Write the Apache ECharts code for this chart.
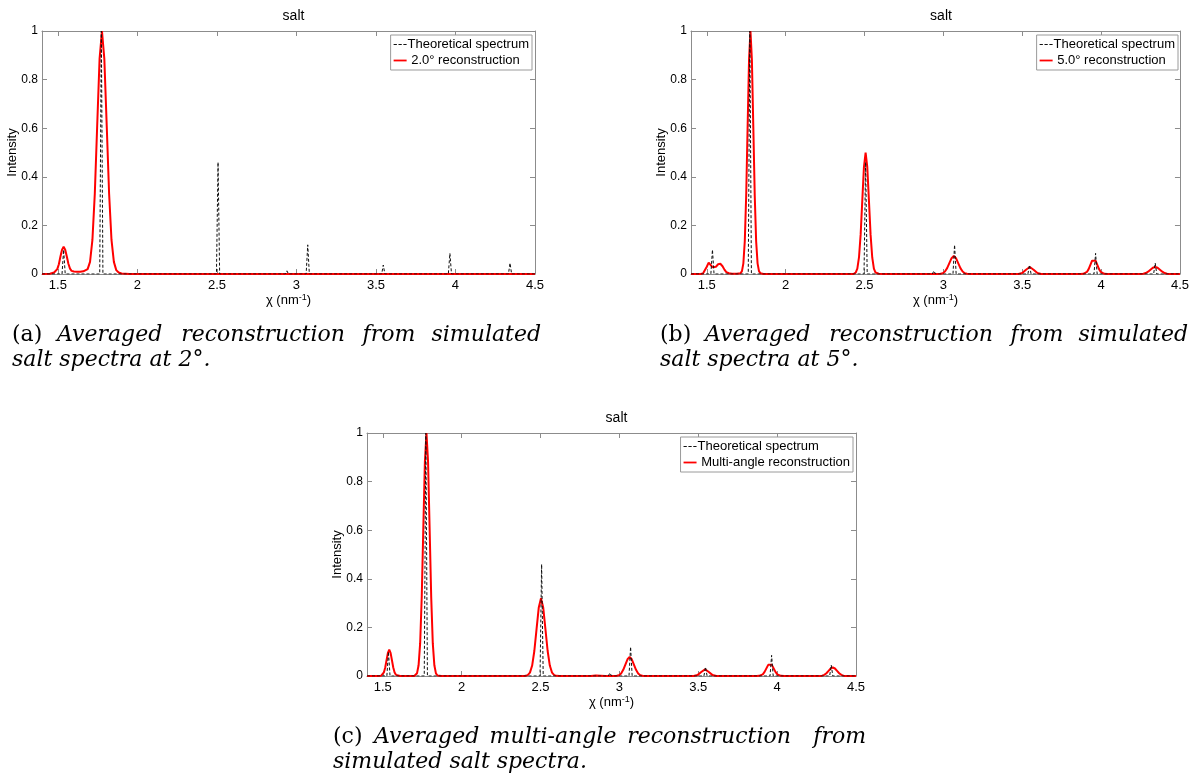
<!DOCTYPE html>
<html>
<head>
<meta charset="utf-8">
<script src="https://cdn.jsdelivr.net/npm/echarts@6/dist/echarts.min.js"></script>
<style>
  html, body { margin: 0; padding: 0; background: #fff; }
  #chart { width: 1192px; height: 783px; }
</style>
</head>
<body>
<div id="chart"></div>
<script>
// ---------------- data ----------------
const xTickValues = [1.5, 2, 2.5, 3, 3.5, 4, 4.5];
const panelTitles = ['salt', 'salt', 'salt'];
const theoryName = 'Theoretical spectrum';
const reconNames = ['2.0\u00b0 reconstruction', '5.0\u00b0 reconstruction', 'Multi-angle reconstruction'];

// theoretical stick spectrum [chi, intensity]
const theoretical = [
  [1.40, 0], [1.526, 0], [1.536, 0.10], [1.546, 0],
  [1.763, 0], [1.773, 1.0], [1.783, 0],
  [2.497, 0], [2.507, 0.46], [2.517, 0],
  [2.930, 0], [2.940, 0.013], [2.950, 0],
  [3.061, 0], [3.071, 0.12], [3.081, 0],
  [3.536, 0], [3.546, 0.037], [3.556, 0],
  [3.955, 0], [3.965, 0.085], [3.975, 0],
  [4.333, 0], [4.343, 0.045], [4.353, 0],
  [4.50, 0]
];

// (a) 2.0 degree reconstruction
const recon2deg = [
  [1.40, 0], [1.45, 0.001], [1.476, 0.006], [1.486, 0.009], [1.496, 0.02], [1.506, 0.04],
  [1.516, 0.072], [1.526, 0.10], [1.536, 0.112], [1.546, 0.10], [1.556, 0.072], [1.566, 0.042],
  [1.576, 0.022], [1.586, 0.013], [1.60, 0.01], [1.62, 0.009], [1.64, 0.009], [1.66, 0.011],
  [1.672, 0.012], [1.687, 0.02], [1.702, 0.05], [1.717, 0.14], [1.732, 0.33], [1.747, 0.61],
  [1.762, 0.885], [1.777, 1.0], [1.792, 0.885], [1.807, 0.61], [1.822, 0.33], [1.837, 0.14],
  [1.852, 0.05], [1.867, 0.016], [1.882, 0.006], [1.90, 0.002], [1.95, 0], [4.50, 0]
];

// (b) 5.0 degree reconstruction
const recon5deg = [
  [1.40, 0], [1.46, 0], [1.476, 0.002], [1.488, 0.01], [1.50, 0.03], [1.512, 0.047],
  [1.524, 0.04], [1.536, 0.028], [1.547, 0.024], [1.558, 0.03], [1.572, 0.04], [1.586, 0.042],
  [1.60, 0.032], [1.612, 0.018], [1.624, 0.008], [1.64, 0.003], [1.66, 0.001], [1.69, 0.001],
  [1.714, 0.003], [1.723, 0.012], [1.732, 0.044], [1.741, 0.135], [1.750, 0.325], [1.759, 0.607],
  [1.768, 0.883], [1.777, 1.0], [1.786, 0.883], [1.795, 0.607], [1.804, 0.325], [1.813, 0.135],
  [1.822, 0.044], [1.831, 0.012], [1.840, 0.003], [1.86, 0],
  [2.43, 0], [2.444, 0.006], [2.4545, 0.022], [2.465, 0.068], [2.4755, 0.162], [2.486, 0.303],
  [2.4965, 0.441], [2.507, 0.50], [2.5175, 0.441], [2.528, 0.303], [2.5385, 0.162], [2.549, 0.068],
  [2.5595, 0.022], [2.570, 0.006], [2.59, 0.001], [2.62, 0],
  [2.96, 0], [2.982, 0.0008], [2.996, 0.0032], [3.010, 0.010], [3.024, 0.024], [3.038, 0.045],
  [3.052, 0.065], [3.066, 0.074], [3.080, 0.065], [3.094, 0.045], [3.108, 0.024], [3.122, 0.010],
  [3.136, 0.0032], [3.150, 0.0008], [3.17, 0],
  [3.45, 0], [3.476, 0.0003], [3.488, 0.0013], [3.500, 0.0039], [3.512, 0.0094], [3.524, 0.0176],
  [3.536, 0.0256], [3.548, 0.029], [3.560, 0.0256], [3.572, 0.0176], [3.584, 0.0094], [3.596, 0.0039],
  [3.608, 0.0013], [3.620, 0.0003], [3.64, 0],
  [3.87, 0], [3.888, 0.0007], [3.899, 0.0027], [3.910, 0.0084], [3.921, 0.0201], [3.932, 0.0376],
  [3.943, 0.0547], [3.954, 0.062], [3.965, 0.0547], [3.976, 0.0376], [3.987, 0.0201], [3.998, 0.0084],
  [4.009, 0.0027], [4.020, 0.0007], [4.04, 0],
  [4.24, 0], [4.253, 0.0003], [4.268, 0.0013], [4.283, 0.0039], [4.298, 0.0094], [4.313, 0.0176],
  [4.328, 0.0256], [4.343, 0.029], [4.358, 0.0256], [4.373, 0.0176], [4.388, 0.0094], [4.403, 0.0039],
  [4.418, 0.0013], [4.433, 0.0003], [4.46, 0], [4.50, 0]
];

// (c) multi-angle reconstruction
const reconMulti = [
  [1.40, 0], [1.47, 0], [1.490, 0.0012], [1.4985, 0.0047], [1.507, 0.0146], [1.5155, 0.035],
  [1.524, 0.0655], [1.5325, 0.0953], [1.541, 0.108], [1.5495, 0.0953], [1.558, 0.0655], [1.5665, 0.035],
  [1.575, 0.0146], [1.5835, 0.0047], [1.592, 0.0012], [1.61, 0],
  [1.70, 0], [1.707, 0.002], [1.717, 0.011], [1.727, 0.044], [1.737, 0.135], [1.747, 0.325],
  [1.757, 0.607], [1.767, 0.883], [1.777, 1.0], [1.787, 0.883], [1.797, 0.607], [1.807, 0.325],
  [1.817, 0.135], [1.827, 0.044], [1.837, 0.011], [1.847, 0.002], [1.87, 0],
  [2.40, 0], [2.405, 0.0007], [2.419, 0.0036], [2.433, 0.014], [2.447, 0.043], [2.461, 0.104],
  [2.475, 0.194], [2.489, 0.282], [2.503, 0.32], [2.517, 0.282], [2.531, 0.194], [2.545, 0.104],
  [2.559, 0.043], [2.573, 0.014], [2.587, 0.0036], [2.601, 0.0007], [2.62, 0],
  [2.82, 0], [2.85, 0.002], [2.88, 0.001], [2.91, 0],
  [2.9705, 0.0002], [2.984, 0.0009], [2.9975, 0.0034], [3.011, 0.0106], [3.0245, 0.0253], [3.038, 0.0473],
  [3.0515, 0.0688], [3.065, 0.078], [3.0785, 0.0688], [3.092, 0.0473], [3.1055, 0.0253], [3.119, 0.0106],
  [3.1325, 0.0034], [3.146, 0.0009], [3.16, 0.0002], [3.18, 0],
  [3.45, 0], [3.471, 0.0003], [3.483, 0.0012], [3.495, 0.0037], [3.507, 0.0088], [3.519, 0.0164],
  [3.531, 0.0238], [3.543, 0.027], [3.555, 0.0238], [3.567, 0.0164], [3.579, 0.0088], [3.591, 0.0037],
  [3.603, 0.0012], [3.615, 0.0003], [3.64, 0],
  [3.87, 0], [3.886, 0.0006], [3.8975, 0.0023], [3.909, 0.007], [3.9205, 0.0169], [3.932, 0.0315],
  [3.9435, 0.0459], [3.955, 0.052], [3.9665, 0.0459], [3.978, 0.0315], [3.9895, 0.0169], [4.001, 0.007],
  [4.0125, 0.0023], [4.024, 0.0006], [4.045, 0],
  [4.25, 0], [4.272, 0.0004], [4.2855, 0.0015], [4.299, 0.0047], [4.3125, 0.0114], [4.326, 0.0212],
  [4.3395, 0.0309], [4.353, 0.035], [4.3665, 0.0309], [4.38, 0.0212], [4.3935, 0.0114], [4.407, 0.0047],
  [4.4205, 0.0015], [4.434, 0.0004], [4.455, 0], [4.50, 0]
];

const reconData = [recon2deg, recon5deg, reconMulti];

// caption words: [text, italic]
const captionA1 = [['(a)', false], ['Averaged', true], ['reconstruction', true], ['from', true], ['simulated', true]];
const captionA2 = 'salt spectra at 2\u00b0.';
const captionB1 = [['(b)', false], ['Averaged', true], ['reconstruction', true], ['from', true], ['simulated', true]];
const captionB2 = 'salt spectra at 5\u00b0.';
const captionC1 = [['(c)', false], ['Averaged', true], ['multi-angle', true], ['reconstruction', true], ['from', true]];
const captionC2 = 'simulated salt spectra.';

// ---------------- layout ----------------
const grids = [
  { left: 42, top: 31, width: 493, height: 243 },
  { left: 691, top: 31, width: 490, height: 243 },
  { left: 367, top: 433, width: 489, height: 243 }
];
const AXIS_COLOR = '#8c8c8c';
const SANS = '"Liberation Sans", Arial, sans-serif';
const SERIF = '"DejaVu Serif", "Liberation Serif", serif';
const DASH_ICON = 'path://M0,0h4v1.3h-4z M6,0h4v1.3h-4z M12,0h4v1.3h-4z';
const SOLID_ICON = 'path://M0,0h16v2.2h-16z';

const option = {
  animation: false,
  backgroundColor: '#ffffff',
  textStyle: { fontFamily: SANS },
  title: [],
  legend: [],
  grid: [],
  xAxis: [],
  yAxis: [],
  series: [],
  graphic: []
};

grids.forEach((g, i) => {
  option.grid.push({ left: g.left, top: g.top, width: g.width, height: g.height, containLabel: false });
  option.title.push({
    text: panelTitles[i],
    left: g.left + g.width / 2,
    textAlign: 'center',
    top: g.top - 27,
    textStyle: { fontFamily: SANS, fontSize: 14, fontWeight: 'normal', color: '#000' }
  });
  const tickCommon = { show: true, inside: true, length: 5, lineStyle: { color: AXIS_COLOR, width: 1 } };
  // bottom x
  option.xAxis.push({
    type: 'value', gridIndex: i, position: 'bottom', min: 1.4, max: 4.5,
    axisLine: { show: true, onZero: false, lineStyle: { color: AXIS_COLOR, width: 1 } },
    axisTick: Object.assign({ customValues: xTickValues }, tickCommon),
    axisLabel: { customValues: xTickValues, color: '#000', fontSize: 13, fontFamily: SANS, margin: 5,
      showMinLabel: true, showMaxLabel: true },
    splitLine: { show: false },
    name: '{a|\u03c7 (nm}{s|-1}{a|)}',
    nameLocation: 'middle', nameGap: 18,
    nameTextStyle: {
      rich: {
        a: { fontSize: 13, fontFamily: SANS, color: '#000', lineHeight: 16 },
        s: { fontSize: 9, fontFamily: SANS, color: '#000', lineHeight: 16, verticalAlign: 'top', padding: [0, 0, 7, 0] }
      }
    }
  });
  // top x (box + ticks)
  option.xAxis.push({
    type: 'value', gridIndex: i, position: 'top', min: 1.4, max: 4.5,
    axisLine: { show: true, onZero: false, lineStyle: { color: AXIS_COLOR, width: 1 } },
    axisTick: Object.assign({ customValues: xTickValues }, tickCommon),
    axisLabel: { show: false },
    splitLine: { show: false }
  });
  // left y
  option.yAxis.push({
    type: 'value', gridIndex: i, position: 'left', min: 0, max: 1, interval: 0.2,
    axisLine: { show: true, onZero: false, lineStyle: { color: AXIS_COLOR, width: 1 } },
    axisTick: tickCommon,
    axisLabel: { color: '#000', fontSize: 12, fontFamily: SANS, margin: 4 },
    splitLine: { show: false },
    name: 'Intensity', nameLocation: 'middle', nameRotate: 90, nameGap: 23,
    nameMoveOverlap: false,
    nameTextStyle: { fontSize: 13, fontFamily: SANS, color: '#000' }
  });
  // right y
  option.yAxis.push({
    type: 'value', gridIndex: i, position: 'right', min: 0, max: 1, interval: 0.2,
    axisLine: { show: true, onZero: false, lineStyle: { color: AXIS_COLOR, width: 1 } },
    axisTick: tickCommon,
    axisLabel: { show: false },
    splitLine: { show: false }
  });

  option.series.push({
    name: reconNames[i], type: 'line', xAxisIndex: 2 * i, yAxisIndex: 2 * i,
    data: reconData[i], showSymbol: false, symbol: 'none', z: 2,
    lineStyle: { color: '#ff0000', width: 2 }, itemStyle: { color: '#ff0000' }
  });
  option.series.push({
    name: theoryName, type: 'line', xAxisIndex: 2 * i, yAxisIndex: 2 * i,
    data: theoretical, showSymbol: false, symbol: 'none', z: 3,
    lineStyle: { color: '#111', width: 1, type: [3, 2] }, itemStyle: { color: '#111' }
  });

  option.legend.push({
    data: [{ name: theoryName, icon: DASH_ICON }, { name: reconNames[i], icon: SOLID_ICON }],
    orient: 'vertical',
    right: 1192 - (g.left + g.width) + 3,
    top: g.top + 4,
    itemWidth: 13, itemHeight: 12, itemGap: 3,
    symbolKeepAspect: true,
    padding: [3, 3, 3, 3],
    borderColor: '#9a9a9a', borderWidth: 1, backgroundColor: '#fff',
    borderRadius: 0,
    selectedMode: false,
    formatter: (name) => (name === theoryName ? name : ' ' + name),
    textStyle: { fontFamily: SANS, fontSize: 13, color: '#000', padding: [0, 0, 0, -4] }
  });
});

// captions: word anchor positions
const captionDefs = [
  { words: captionA1, pos: [12, 57, 263, 389, 541], y: 335, line2: captionA2, x2: 12, y2: 360 },
  { words: captionB1, pos: [660, 705, 911, 1037, 1188], y: 335, line2: captionB2, x2: 660, y2: 360 },
  { words: captionC1, pos: [333, 374, 553, 709, 866], y: 737, line2: captionC2, x2: 333, y2: 762 }
];

captionDefs.forEach(c => {
  const n = c.words.length;
  c.words.forEach((w, k) => {
    const align = k <= 1 ? 'left' : (k === n - 1 ? 'right' : 'center');
    option.graphic.push({
      type: 'text', x: c.pos[k], y: c.y,
      style: {
        text: w[0], fontFamily: SERIF, fontSize: 22, fontStyle: w[1] ? 'italic' : 'normal',
        fill: '#000', align: align, verticalAlign: 'middle'
      }
    });
  });
  option.graphic.push({
    type: 'text', x: c.x2, y: c.y2,
    style: {
      text: c.line2, fontFamily: SERIF, fontSize: 22, fontStyle: 'italic',
      fill: '#000', align: 'left', verticalAlign: 'middle'
    }
  });
});

const chart = echarts.init(document.getElementById('chart'), null, { renderer: 'canvas' });
chart.setOption(option);
</script>
</body>
</html>
